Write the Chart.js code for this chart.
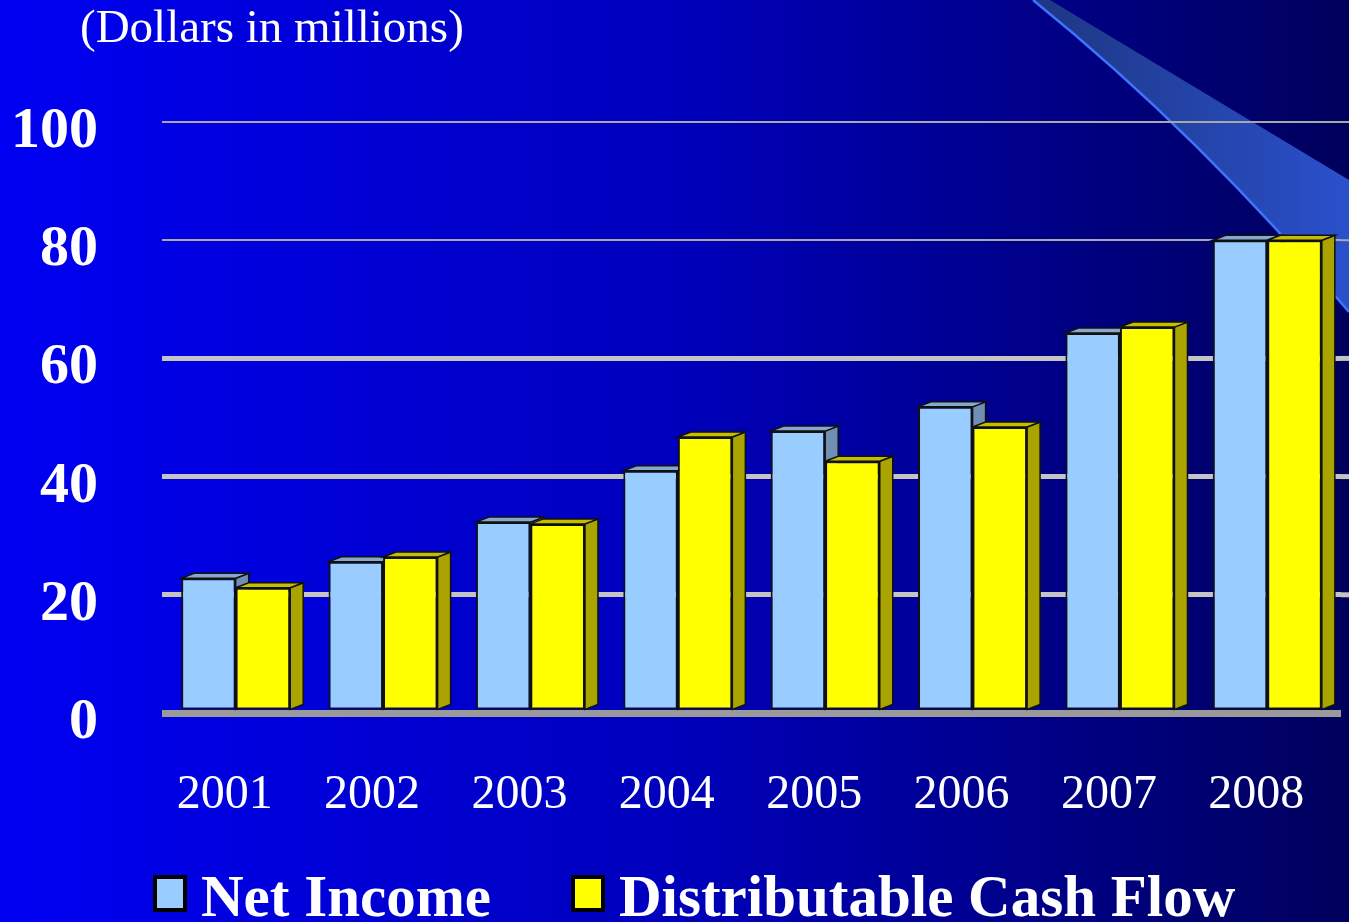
<!DOCTYPE html>
<html>
<head>
<meta charset="utf-8">
<script src="https://cdn.jsdelivr.net/npm/chart.js@4/dist/chart.umd.min.js"></script>
<style>
    html, body { margin: 0; padding: 0; background: #0000c0; }
    #wrap { width: 1349px; height: 922px; position: relative; }
</style>
</head>
<body>
<div id="wrap"><canvas id="incomeChart"></canvas></div>
<script>
const years = ["2001", "2002", "2003", "2004", "2005", "2006", "2007", "2008"];
const netIncome = [22.8, 25.6, 32.3, 41.0, 47.7, 51.8, 64.3, 80.0];
const cashFlow = [21.2, 26.4, 32.0, 46.7, 42.6, 48.4, 65.3, 80.0];
const yTicks = [0, 20, 40, 60, 80, 100];
const unitsLabel = "(Dollars in millions)";
const seriesNames = ["Net Income", "Distributable Cash Flow"];

const serif = "'Liberation Serif', 'Times New Roman', serif";

// background gradient + swoosh in the top right corner
const backdrop = {
    id: "backdrop",
    beforeDraw(chart) {
        const c = chart.ctx, w = chart.width, h = chart.height;
        c.save();
        const g = c.createLinearGradient(0, 0, w, 0);
        g.addColorStop(0, "#0000f2");
        g.addColorStop(0.5, "#0000bc");
        g.addColorStop(1, "#00005c");
        c.fillStyle = g;
        c.fillRect(0, 0, w, h);

        c.beginPath();
        c.moveTo(1033, 0);
        c.quadraticCurveTo(1200, 135, 1349, 312);
        c.lineTo(1349, 180);
        c.lineTo(1050, 0);
        c.closePath();
        const sg = c.createLinearGradient(1050, 0, 1349, 0);
        sg.addColorStop(0, "#1e3886");
        sg.addColorStop(1, "#2a50cc");
        c.fillStyle = sg;
        c.fill();
        c.beginPath();
        c.moveTo(1033, 0);
        c.quadraticCurveTo(1200, 135, 1349, 312);
        c.strokeStyle = "#3f72ff";
        c.lineWidth = 2.5;
        c.stroke();
        c.restore();
    },
};

// fake 3D: side and top faces under the front faces
const bars3d = {
    id: "bars3d",
    beforeDatasetsDraw(chart) {
        const c = chart.ctx;
        const dx = 13, dy = -5;
        const sides = ["#6f8fb4", "#aaa400"];
        const tops = ["#86a8cc", "#c4bd00"];
        // extend gridlines to the right edge
        const y = chart.scales.y;
        c.save();
        yTicks.forEach(function (v) {
            if (v === 0) return;
            c.strokeStyle = v >= 80 ? "#a8a8a8" : "#c4c4c4";
            c.lineWidth = v >= 80 ? 2 : 5;
            c.beginPath();
            c.moveTo(chart.chartArea.right, y.getPixelForValue(v));
            c.lineTo(chart.width, y.getPixelForValue(v));
            c.stroke();
        });
        c.lineWidth = 1.5;
        c.strokeStyle = "#111";
        chart.data.datasets.forEach(function (ds, i) {
            chart.getDatasetMeta(i).data.forEach(function (el) {
                const l = el.x - el.width / 2, r = el.x + el.width / 2;
                c.fillStyle = sides[i];
                c.beginPath();
                c.moveTo(r, el.y);
                c.lineTo(r + dx, el.y + dy);
                c.lineTo(r + dx, el.base + dy);
                c.lineTo(r, el.base);
                c.closePath();
                c.fill();
                c.stroke();
                c.fillStyle = tops[i];
                c.beginPath();
                c.moveTo(l, el.y);
                c.lineTo(l + dx, el.y + dy);
                c.lineTo(r + dx, el.y + dy);
                c.lineTo(r, el.y);
                c.closePath();
                c.fill();
                c.stroke();
            });
        });
        c.restore();
    },
};

// units text and legend
const labels = {
    id: "labels",
    afterDraw(chart) {
        const c = chart.ctx;
        c.save();
        c.fillStyle = "#fff";
        c.textBaseline = "alphabetic";
        c.font = "47px " + serif;
        c.fillText(unitsLabel, 80, 42);

        const colors = ["#99ccff", "#ffff00"];
        const xs = [155, 573];
        c.font = "bold 59px " + serif;
        seriesNames.forEach(function (name, i) {
            c.fillStyle = colors[i];
            c.fillRect(xs[i], 877, 30, 33);
            c.strokeStyle = "#000";
            c.lineWidth = 4;
            c.strokeRect(xs[i], 877, 30, 33);
            c.fillStyle = "#fff";
            c.fillText(name, xs[i] + 46, 916);
        });
        c.restore();
    },
};

document.addEventListener("DOMContentLoaded", function () {
    const ctx = document.getElementById("incomeChart").getContext("2d");
    new Chart(ctx, {
        type: "bar",
        data: {
            labels: years,
            datasets: [
                {
                    label: seriesNames[0],
                    data: netIncome,
                    backgroundColor: "#99ccff",
                    borderColor: "#111",
                    borderWidth: 2,
                    borderSkipped: false,
                },
                {
                    label: seriesNames[1],
                    data: cashFlow,
                    backgroundColor: "#ffff00",
                    borderColor: "#111",
                    borderWidth: 2,
                    borderSkipped: false,
                },
            ],
        },
        options: {
            responsive: true,
            maintainAspectRatio: false,
            animation: false,
            categoryPercentage: 0.74,
            barPercentage: 1.0,
            layout: { padding: { top: 122, right: 8, bottom: 0, left: 0 } },
            plugins: { legend: { display: false }, tooltip: { enabled: false } },
            scales: {
                x: {
                    grid: { display: false, drawTicks: true, tickLength: 40 },
                    border: { display: false },
                    ticks: {
                        color: "#fff",
                        font: { family: serif, size: 48 },
                        padding: 14,
                        labelOffset: -11,
                        maxRotation: 0,
                    },
                    afterFit(scale) { scale.height = 209; },
                },
                y: {
                    min: 0,
                    max: 100,
                    afterBuildTicks(scale) {
                        scale.ticks = yTicks.map(function (v) { return { value: v }; });
                    },
                    border: { display: false },
                    grid: {
                        drawTicks: false,
                        color: function (ctx) {
                            if (ctx.tick.value === 0) return "#9a9a9a";
                            return ctx.tick.value >= 80 ? "#a8a8a8" : "#c4c4c4";
                        },
                        lineWidth: function (ctx) {
                            if (ctx.tick.value === 0) return 7;
                            return ctx.tick.value >= 80 ? 2 : 5;
                        },
                    },
                    ticks: {
                        color: "#fff",
                        font: { family: serif, size: 58, weight: "bold" },
                        padding: 64,
                        labelOffset: 10,
                    },
                    afterFit(scale) { scale.width = 162; },
                },
            },
        },
        plugins: [backdrop, bars3d, labels],
    });
});
</script>
</body>
</html>
